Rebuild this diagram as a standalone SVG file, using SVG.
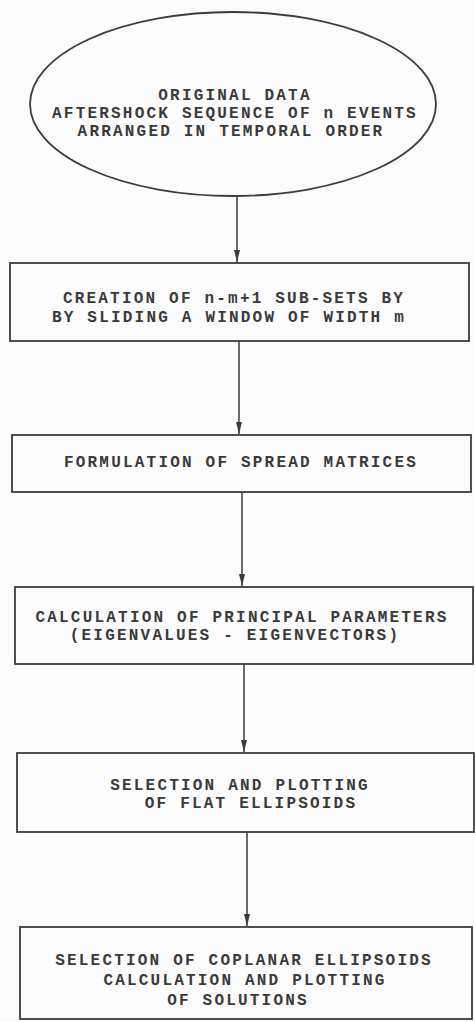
<svg xmlns="http://www.w3.org/2000/svg" width="475" height="1022" viewBox="0 0 475 1022">
<style>
.shape{fill:none;stroke:#3c3c3c;stroke-width:1.8}
.t{font-family:"Liberation Mono","DejaVu Sans Mono",monospace;font-size:16px;font-weight:bold;fill:#3a3a3a;text-anchor:middle;letter-spacing:2.2px}
.edge{stroke:#3c3c3c;stroke-width:1.5;fill:none}
</style>
<defs>
<marker id="arr" viewBox="0 0 12 6" refX="12" refY="3" markerWidth="12" markerHeight="6" markerUnits="userSpaceOnUse" orient="auto">
<path d="M0,0 L12,3 L0,6 Z" fill="#3c3c3c"/>
</marker>
</defs>
<rect width="475" height="1022" fill="#fcfcfc"/>
<g id="connectors">
<line class="edge" x1="237" y1="196" x2="237" y2="262" marker-end="url(#arr)"/>
<line class="edge" x1="239" y1="341" x2="239" y2="434" marker-end="url(#arr)"/>
<line class="edge" x1="242" y1="492" x2="242" y2="586" marker-end="url(#arr)"/>
<line class="edge" x1="244" y1="664" x2="244" y2="752" marker-end="url(#arr)"/>
<line class="edge" x1="247" y1="832" x2="247" y2="926" marker-end="url(#arr)"/>
</g>
<g id="node-original">
<ellipse class="shape" cx="233" cy="104" rx="203" ry="92"/>
<text class="t" x="235" y="100">ORIGINAL DATA</text>
<text class="t" x="235" y="118">AFTERSHOCK SEQUENCE OF n EVENTS</text>
<text class="t" x="231" y="136">ARRANGED IN TEMPORAL ORDER</text>
</g>
<g id="node-creation">
<rect class="shape" x="10" y="263" width="459" height="78"/>
<text class="t" x="234" y="303">CREATION OF n-m+1 SUB-SETS BY</text>
<text class="t" x="229" y="322">BY SLIDING A WINDOW OF WIDTH m</text>
</g>
<g id="node-formulation">
<rect class="shape" x="12" y="435" width="459" height="57"/>
<text class="t" x="241" y="467">FORMULATION OF SPREAD MATRICES</text>
</g>
<g id="node-calculation">
<rect class="shape" x="15" y="587" width="458" height="77"/>
<text class="t" x="242" y="622">CALCULATION OF PRINCIPAL PARAMETERS</text>
<text class="t" x="235" y="640">(EIGENVALUES - EIGENVECTORS)</text>
</g>
<g id="node-selection-flat">
<rect class="shape" x="17" y="753" width="457" height="79"/>
<text class="t" x="240" y="790">SELECTION AND PLOTTING</text>
<text class="t" x="251" y="808">OF FLAT ELLIPSOIDS</text>
</g>
<g id="node-selection-coplanar">
<rect class="shape" x="20" y="927" width="452" height="92"/>
<text class="t" x="244" y="965">SELECTION OF COPLANAR ELLIPSOIDS</text>
<text class="t" x="245" y="985">CALCULATION AND PLOTTING</text>
<text class="t" x="238" y="1005">OF SOLUTIONS</text>
</g>
</svg>
